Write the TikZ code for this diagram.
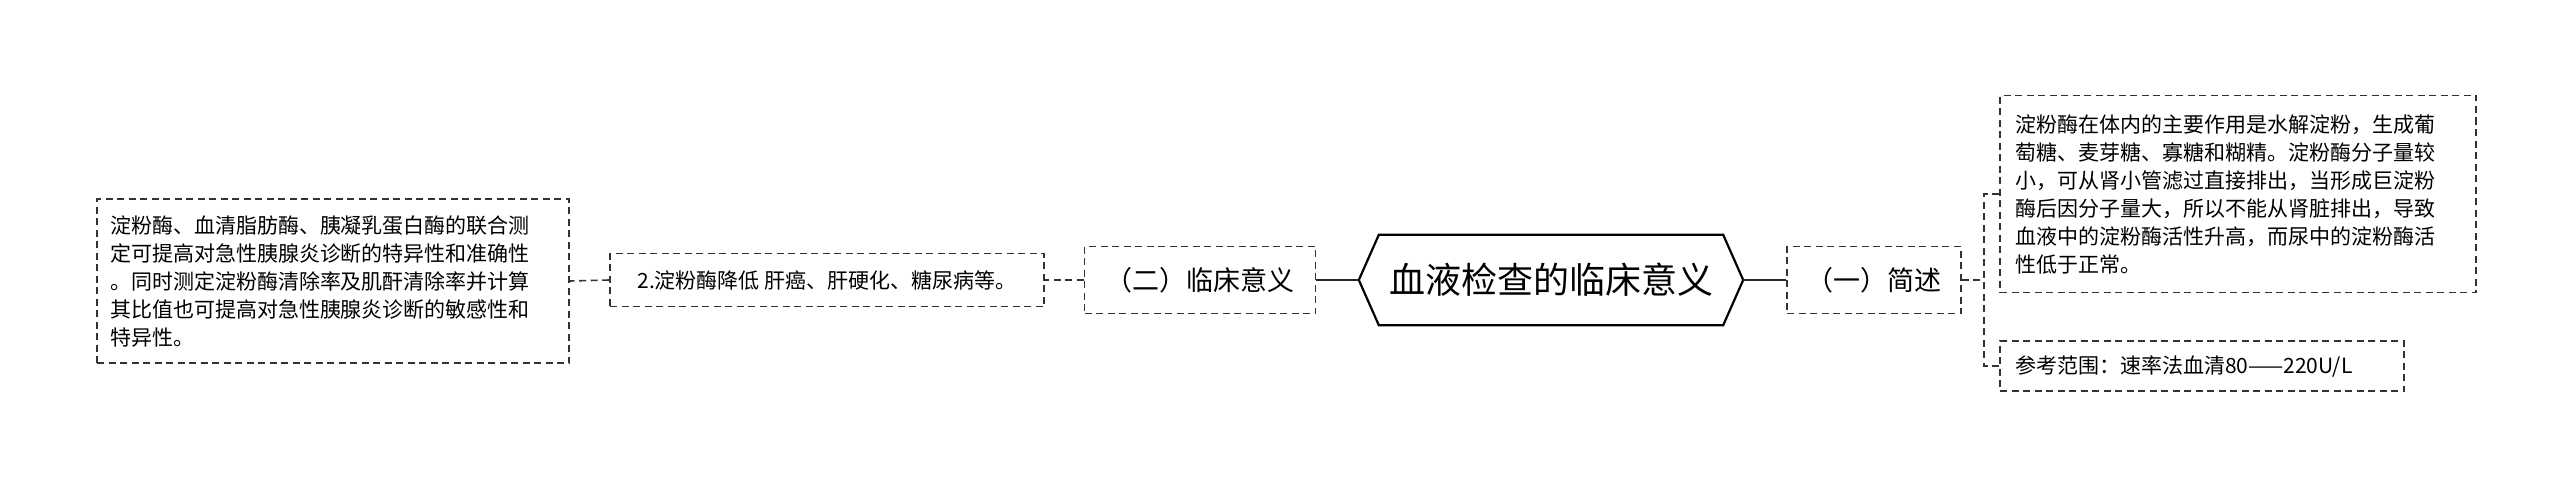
\documentclass[tikz,border=0pt]{standalone}
\usepackage{fontspec}
\setmainfont{Noto Sans CJK SC}
\begin{document}
\begin{tikzpicture}[x=1pt,y=-1pt,
  dbox/.style={draw=black!80,line width=1.6pt,dash pattern=on 7pt off 4.5pt,inner sep=0pt,align=left,font=\fontsize{21}{28}\selectfont},
  lnk/.style={line width=2pt,black!85},
  dlnk/.style={line width=1.6pt,black!80,dash pattern=on 7pt off 4.5pt}]
\useasboundingbox (0,0) rectangle (2560,487);
\node[minimum width=384pt,minimum height=90pt,inner sep=0pt,font=\fontsize{36}{40}\selectfont] (root) at (1551,280) {血液检查的临床意义};
\draw[line width=2.2pt] (root.west) -- ([xshift=20pt]root.north west) -- ([xshift=-20pt]root.north east) -- (root.east) -- ([xshift=-20pt]root.south east) -- ([xshift=20pt]root.south west) -- cycle;
\node[dbox,minimum width=174pt,minimum height=67pt,align=center,font=\fontsize{27}{30}\selectfont] (a) at (1874,280) {（一）简述};
\node[dbox,minimum width=476pt,minimum height=197pt,text width=446pt] (a1) at (2238,194) {淀粉酶在体内的主要作用是水解淀粉，生成葡\\萄糖、麦芽糖、寡糖和糊精。淀粉酶分子量较\\小，可从肾小管滤过直接排出，当形成巨淀粉\\酶后因分子量大，所以不能从肾脏排出，导致\\血液中的淀粉酶活性升高，而尿中的淀粉酶活\\性低于正常。};
\node[dbox,minimum width=404pt,minimum height=50pt,text width=374pt] (a2) at (2202,366) {参考范围：速率法血清80——220U/L};
\node[dbox,minimum width=231pt,minimum height=67pt,align=center,font=\fontsize{27}{30}\selectfont] (b) at (1200,280) {（二）临床意义};
\node[dbox,minimum width=434pt,minimum height=53pt,align=center] (b1) at (827,280) {2.淀粉酶降低 肝癌、肝硬化、糖尿病等。};
\node[dbox,minimum width=472pt,minimum height=164pt,text width=446pt] (b2) at (333,281) {淀粉酶、血清脂肪酶、胰凝乳蛋白酶的联合测\\定可提高对急性胰腺炎诊断的特异性和准确性\\。同时测定淀粉酶清除率及肌酐清除率并计算\\其比值也可提高对急性胰腺炎诊断的敏感性和\\特异性。};
\draw[lnk] (root.east) -- (a.west);
\draw[lnk] (root.west) -- (b.east);
\coordinate (t) at (1984,280);
\draw[dlnk] (a.east) -- (t);
\draw[dlnk] (a1.west) -| (t) |- (a2.west);
\draw[dlnk] (b.west) -- (b1.east);
\draw[dlnk] (b1.west) -- (b2.east);
\end{tikzpicture}
\end{document}
